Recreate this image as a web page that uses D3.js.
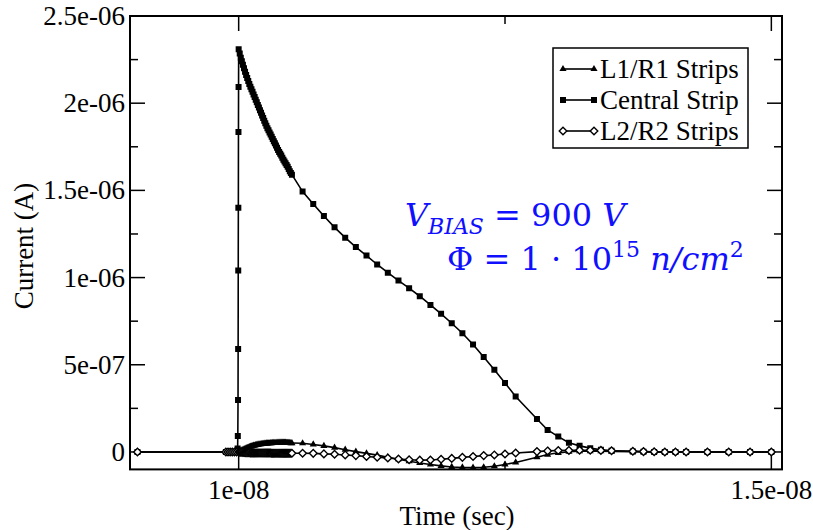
<!DOCTYPE html>
<html><head><meta charset="utf-8">
<script src="https://cdn.jsdelivr.net/npm/d3@7"></script>
<style>
html,body{margin:0;padding:0;background:#fff;}
svg{display:block;}
svg text{font-family:"Liberation Serif","Nimbus Roman","Nimbus Roman No9 L","FreeSerif","Tinos","Times New Roman","Times","Noto Serif","DejaVu Serif",serif;}
svg text.math{font-family:"DejaVu Serif","Noto Serif","Liberation Serif","FreeSerif",serif;}
</style></head>
<body>
<svg id="chart" width="813" height="530"></svg>
<script>
// ---- data (time in ns, current in µA) ----
const timeCentral = [9.05, 9.88, 9.90, 9.92, 9.94, 9.96, 9.98,
  9.990, 9.992, 9.994, 9.995, 9.996, 9.997, 9.998, 9.999, 10.00,
  10.01, 10.02, 10.03, 10.04, 10.05, 10.06, 10.07, 10.08, 10.09, 10.10,
  10.11, 10.12, 10.13, 10.14, 10.15, 10.16, 10.17, 10.18, 10.19, 10.20,
  10.21, 10.22, 10.23, 10.24, 10.25, 10.26, 10.27, 10.28, 10.29, 10.30,
  10.31, 10.32, 10.33, 10.34, 10.35, 10.36, 10.37, 10.38, 10.39, 10.40,
  10.41, 10.42, 10.43, 10.44, 10.45, 10.46, 10.47, 10.48, 10.49, 10.50,
  10.6, 10.7, 10.8, 10.9, 11.0, 11.1, 11.2, 11.3, 11.4, 11.5, 11.6, 11.7, 11.8, 11.9, 12.0,
  12.1, 12.2, 12.3, 12.4, 12.5, 12.6,
  12.8, 12.9, 13.0, 13.1, 13.2, 13.3, 13.4, 13.5,
  13.7, 13.8, 13.9, 14.0, 14.1, 14.2,
  14.4, 14.6, 14.8, 15.0];
const centralStrip = [0, 0, 0, 0, 0, 0, 0,
  0.02, 0.092, 0.298, 0.59, 1.04, 1.40, 1.835, 2.093, 2.31,
  2.285, 2.26, 2.24, 2.22, 2.20, 2.18, 2.162, 2.145, 2.127, 2.11,
  2.095, 2.08, 2.065, 2.05, 2.035, 2.02, 2.005, 1.99, 1.975, 1.96,
  1.945, 1.93, 1.915, 1.90, 1.885, 1.87, 1.857, 1.845, 1.832, 1.82,
  1.807, 1.795, 1.782, 1.77, 1.757, 1.745, 1.732, 1.72, 1.71, 1.70,
  1.687, 1.675, 1.665, 1.655, 1.645, 1.635, 1.622, 1.61, 1.60, 1.59,
  1.493, 1.422, 1.353, 1.288, 1.229, 1.175, 1.126, 1.075, 1.028, 0.983, 0.939, 0.893, 0.843, 0.792, 0.738,
  0.681, 0.616, 0.545, 0.472, 0.396, 0.318,
  0.189, 0.126, 0.088, 0.053, 0.035, 0.022, 0.013, 0.007,
  0.003, 0.001, 0, 0, 0, 0,
  0, 0, 0, 0];

const timeSide = [9.05, 9.88, 9.90, 9.92, 9.94, 9.96, 9.98, 10.00,
  10.01, 10.02, 10.03, 10.04, 10.05, 10.06, 10.07, 10.08, 10.09, 10.10,
  10.11, 10.12, 10.13, 10.14, 10.15, 10.16, 10.17, 10.18, 10.19, 10.20,
  10.21, 10.22, 10.23, 10.24, 10.25, 10.26, 10.27, 10.28, 10.29, 10.30,
  10.31, 10.32, 10.33, 10.34, 10.35, 10.36, 10.37, 10.38, 10.39, 10.40,
  10.41, 10.42, 10.43, 10.44, 10.45, 10.46, 10.47, 10.48, 10.49, 10.50,
  10.6, 10.7, 10.8, 10.9, 11.0, 11.1, 11.2, 11.3, 11.4, 11.5, 11.6, 11.7, 11.8, 11.9, 12.0,
  12.1, 12.2, 12.3, 12.4, 12.5, 12.6,
  12.8, 12.9, 13.0, 13.1, 13.2, 13.3, 13.4, 13.5,
  13.7, 13.8, 13.9, 14.0, 14.1, 14.2,
  14.4, 14.6, 14.8, 15.0];
const l1r1Strips = [0, 0, 0, 0, 0, 0, 0, 0.0,
  0.003, 0.006, 0.009, 0.012, 0.015, 0.018, 0.020, 0.023, 0.025, 0.028,
  0.030, 0.032, 0.034, 0.036, 0.037, 0.039, 0.040, 0.042, 0.043, 0.044,
  0.045, 0.046, 0.047, 0.048, 0.048, 0.049, 0.049, 0.050, 0.050, 0.051,
  0.051, 0.052, 0.052, 0.052, 0.052, 0.053, 0.053, 0.053, 0.053, 0.053,
  0.053, 0.053, 0.053, 0.053, 0.052, 0.052, 0.052, 0.052, 0.051, 0.051,
  0.050, 0.043, 0.035, 0.025, 0.013, 0.002, -0.008, -0.018, -0.030, -0.042, -0.053, -0.063, -0.072, -0.080, -0.086,
  -0.089, -0.090, -0.088, -0.082, -0.072, -0.060,
  -0.030, -0.015, -0.005, 0.001, 0.004, 0.005, 0.004, 0.003,
  0.002, 0.001, 0, 0, 0, 0,
  0, 0, 0, 0];
const l2r2Strips = [0, 0, 0, 0, 0, 0, 0, 0,
  -0.001, -0.002, -0.002, -0.003, -0.003, -0.004, -0.004, -0.005, -0.005, -0.005,
  -0.006, -0.006, -0.006, -0.006, -0.006, -0.006, -0.006, -0.006, -0.006, -0.006,
  -0.006, -0.006, -0.006, -0.006, -0.006, -0.006, -0.006, -0.006, -0.006, -0.006,
  -0.007, -0.007, -0.007, -0.007, -0.007, -0.007, -0.007, -0.007, -0.007, -0.007,
  -0.007, -0.007, -0.007, -0.007, -0.007, -0.007, -0.007, -0.007, -0.007, -0.007,
  -0.007, -0.008, -0.011, -0.013, -0.017, -0.021, -0.026, -0.030, -0.035, -0.040, -0.045, -0.047, -0.046, -0.042, -0.037,
  -0.031, -0.026, -0.021, -0.017, -0.012, -0.006,
  0.002, 0.006, 0.008, 0.009, 0.010, 0.010, 0.009, 0.007,
  0.004, 0.002, 0.001, 0, 0, 0,
  0, 0, 0, 0];

const seriesNames = ["L1/R1 Strips", "Central Strip", "L2/R2 Strips"];
const yTickValues = [0, 5e-7, 1e-6, 1.5e-6, 2e-6, 2.5e-6];
const yTickLabels = ["0", "5e-07", "1e-06", "1.5e-06", "2e-06", "2.5e-06"];
const yMinorTicks = [2.5e-7, 7.5e-7, 1.25e-6, 1.75e-6, 2.25e-6];
const xTickValues = [1e-8, 1.5e-8];
const xTickLabels = ["1e-08", "1.5e-08"];
const xMinorTicks = [1.25e-8];
const xTitle = "Time (sec)";
const yTitle = "Current (A)";

// ---- layout ----
const L = 130, R = 782, T = 16, B = 469.4;
const svg = d3.select("#chart");
const x = d3.scaleLinear().domain([8.98e-9, 1.51e-8]).range([L, R]);
const y = d3.scaleLinear().domain([-1e-7, 2.5e-6]).range([B, T]);

function toPts(ts, vs) { return ts.map((t, i) => [t * 1e-9, vs[i] * 1e-6]); }
const data = [toPts(timeSide, l1r1Strips), toPts(timeCentral, centralStrip), toPts(timeSide, l2r2Strips)];

svg.append("clipPath").attr("id", "clip").append("rect")
  .attr("x", L).attr("y", T - 4).attr("width", R - L).attr("height", B - T + 6);

// ticks (inward, mirrored)
const tg = svg.append("g").attr("stroke", "#000").attr("stroke-width", 1.5);
function yTick(v, len) {
  tg.append("line").attr("x1", L).attr("x2", L + len).attr("y1", y(v)).attr("y2", y(v));
  tg.append("line").attr("x1", R).attr("x2", R - len).attr("y1", y(v)).attr("y2", y(v));
}
function xTick(v, len) {
  tg.append("line").attr("y1", B).attr("y2", B - len).attr("x1", x(v)).attr("x2", x(v));
  tg.append("line").attr("y1", T).attr("y2", T + len).attr("x1", x(v)).attr("x2", x(v));
}
yTickValues.forEach(v => yTick(v, 15));
yMinorTicks.forEach(v => yTick(v, 8));
xTickValues.forEach(v => xTick(v, 15));
xMinorTicks.forEach(v => xTick(v, 8));

// tick labels
svg.append("g").selectAll("text").data(yTickValues).join("text")
  .attr("x", L - 5).attr("y", d => y(d) + 9)
  .attr("text-anchor", "end").attr("font-size", 27)
  .text((d, i) => yTickLabels[i]);
svg.append("g").selectAll("text").data(xTickValues).join("text")
  .attr("x", d => x(d)).attr("y", 499)
  .attr("text-anchor", "middle").attr("font-size", 27)
  .text((d, i) => xTickLabels[i]);
svg.append("text").attr("x", (L + R) / 2 + 1).attr("y", 525).attr("text-anchor", "middle")
  .attr("font-size", 27).text(xTitle);
svg.append("text").attr("transform", "translate(33,246) rotate(-90)").attr("text-anchor", "middle")
  .attr("font-size", 27).text(yTitle);

// series
const line = d3.line().x(d => x(d[0])).y(d => y(d[1]));
const plot = svg.append("g").attr("clip-path", "url(#clip)");
const triPath = d3.symbol(d3.symbolTriangle, 22)();
const sqPath = d3.symbol(d3.symbolSquare, 36)();
const diaPath = "M0,-3.8L3.8,0L0,3.8L-3.8,0Z";
const markerStyle = [
  {path: triPath, fill: "#000", stroke: "none", sw: 0},
  {path: sqPath, fill: "#000", stroke: "none", sw: 0},
  {path: diaPath, fill: "#fff", stroke: "#000", sw: 1.4}
];
[0, 1, 2].forEach(k => {
  plot.append("path").datum(data[k]).attr("d", line)
    .attr("fill", "none").attr("stroke", "#000").attr("stroke-width", 1.6);
});
[0, 1, 2].forEach(k => {
  const st = markerStyle[k];
  plot.append("g").selectAll("path").data(data[k]).join("path")
    .attr("transform", d => `translate(${x(d[0])},${y(d[1])})`)
    .attr("d", st.path).attr("fill", st.fill).attr("stroke", st.stroke).attr("stroke-width", st.sw);
});

// frame
svg.append("rect").attr("x", L).attr("y", T).attr("width", R - L).attr("height", B - T)
  .attr("fill", "none").attr("stroke", "#000").attr("stroke-width", 2);

// legend
const lg = svg.append("g");
lg.append("rect").attr("x", 553).attr("y", 48).attr("width", 195).attr("height", 100)
  .attr("fill", "#fff").attr("stroke", "#000").attr("stroke-width", 1.5);
seriesNames.forEach((name, k) => {
  const yy = 69 + k * 31;
  lg.append("line").attr("x1", 563).attr("x2", 594).attr("y1", yy).attr("y2", yy)
    .attr("stroke", "#000").attr("stroke-width", 1.6);
  const st = markerStyle[k];
  [563, 594].forEach(xx => lg.append("path").attr("transform", `translate(${xx},${yy})`)
    .attr("d", st.path).attr("fill", st.fill).attr("stroke", st.stroke).attr("stroke-width", st.sw));
  lg.append("text").attr("x", 600).attr("y", yy + 9).attr("font-size", 27).text(name);
});

// annotation
const BLUE = "#1010ff";
const a1 = svg.append("text").attr("class", "math").attr("x", 405).attr("y", 226)
  .attr("font-size", 32).attr("fill", BLUE);
a1.append("tspan").attr("font-style", "italic").text("V");
a1.append("tspan").attr("font-style", "italic").attr("font-size", 22).attr("dy", 8).text("BIAS");
a1.append("tspan").attr("dy", -8).text(" = 900 ");
a1.append("tspan").attr("font-style", "italic").text("V");
const a2 = svg.append("text").attr("class", "math").attr("x", 447).attr("y", 270)
  .attr("font-size", 32).attr("fill", BLUE);
a2.append("tspan").text("Φ = 1 · 10");
a2.append("tspan").attr("font-size", 22).attr("dy", -13).text("15");
a2.append("tspan").attr("dy", 13).text(" ");
a2.append("tspan").attr("font-style", "italic").text("n/cm");
a2.append("tspan").attr("font-size", 22).attr("dy", -13).text("2");
</script>
</body></html>
